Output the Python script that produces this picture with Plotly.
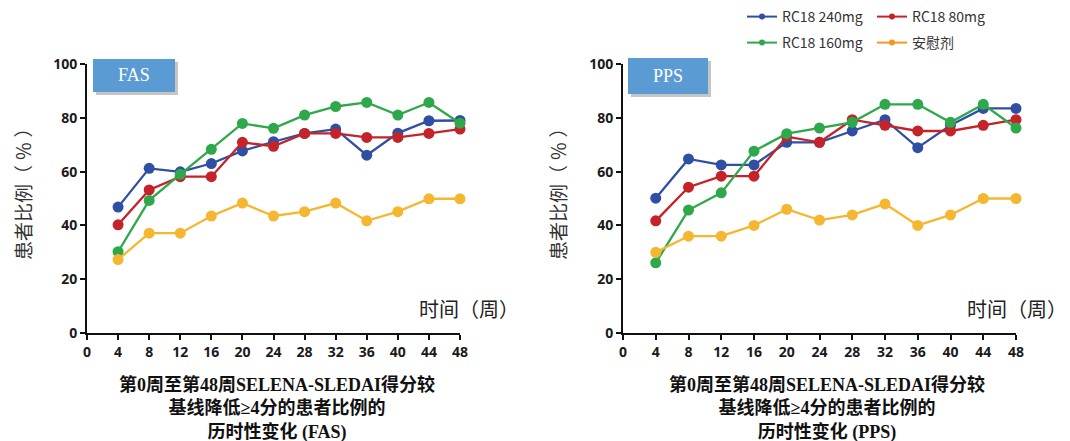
import plotly.graph_objects as go

W, H = 1070, 441

# ---- data -------------------------------------------------------------
weeks = [4, 8, 12, 16, 20, 24, 28, 32, 36, 40, 44, 48]
x_ticks = [0, 4, 8, 12, 16, 20, 24, 28, 32, 36, 40, 44, 48]
y_ticks = [0, 20, 40, 60, 80, 100]

series_names = ["RC18 240mg", "RC18 80mg", "RC18 160mg", "安慰剂"]

fas_240 = [46.8, 61.2, 59.9, 63.0, 67.7, 71.1, 74.2, 75.8, 66.1, 74.3, 78.9, 79.0]
fas_80 = [40.2, 53.2, 58.1, 58.1, 70.9, 69.4, 74.2, 74.2, 72.7, 72.7, 74.2, 75.8]
fas_160 = [30.2, 49.3, 59.0, 68.3, 77.9, 76.1, 81.0, 84.2, 85.7, 81.0, 85.7, 78.0]
fas_placebo = [27.3, 37.1, 37.1, 43.5, 48.3, 43.5, 45.1, 48.3, 41.7, 45.1, 49.9, 49.9]

pps_240 = [50.1, 64.7, 62.5, 62.5, 70.9, 70.9, 75.1, 79.3, 68.9, 77.2, 83.5, 83.5]
pps_80 = [41.7, 54.2, 58.3, 58.3, 73.0, 70.9, 79.3, 77.2, 75.1, 75.1, 77.2, 79.3]
pps_160 = [26.1, 45.7, 52.1, 67.6, 74.1, 76.2, 78.3, 85.0, 85.0, 78.3, 85.0, 76.2]
pps_placebo = [30.0, 36.0, 36.0, 40.0, 46.0, 42.0, 43.9, 48.0, 40.0, 43.9, 50.0, 50.0]

y_title = "患者比例（ ％ ）"
x_title = "时间（周）"
panel_tags = ["FAS", "PPS"]
captions = [
    "第0周至第48周SELENA-SLEDAI得分较<br>基线降低≥4分的患者比例的<br>历时性变化 (FAS)",
    "第0周至第48周SELENA-SLEDAI得分较<br>基线降低≥4分的患者比例的<br>历时性变化 (PPS)",
]

# ---- styling ----------------------------------------------------------
line_colors = ["#2F4FA2", "#C42329", "#2EA84B", "#F5B731"]
legend_colors = ["#2F4FA2", "#C42329", "#2EA84B", "#F7961F"]
TAG_FILL = "#5B9BD3"
TICK_FONT = dict(family="Open Sans, Liberation Sans, sans-serif", size=14,
                 color="#1a1a1a", weight="bold")
CJK_FONT = "Noto Sans CJK SC, Noto Sans, sans-serif"
CAPTION_FONT = "Liberation Serif, Noto Sans CJK SC, serif"


def px(x):
    return x / W


def py(y):
    return 1 - y / H


panels = [
    dict(xaxis="x", yaxis="y", xd=(87, 460), data=[fas_240, fas_80, fas_160, fas_placebo],
         ytitle_x=22, xtitle_r=521, tag_box=(93, 59, 175, 92), cap_x=277),
    dict(xaxis="x2", yaxis="y2", xd=(623, 1016), data=[pps_240, pps_80, pps_160, pps_placebo],
         ytitle_x=557, xtitle_r=1069, tag_box=(628, 58, 708, 94), cap_x=827),
]
y_dom = (py(333), py(64))

fig = go.Figure()

for p in panels:
    for name, vals, color in zip(series_names, p["data"], line_colors):
        fig.add_trace(go.Scatter(
            x=weeks, y=vals, name=name, mode="lines+markers",
            xaxis=p["xaxis"], yaxis=p["yaxis"],
            line=dict(color=color, width=2.3),
            marker=dict(color=color, size=11),
            showlegend=False, cliponaxis=False,
        ))

# legend entries (two rows of two)
for i, (name, color) in enumerate(zip(series_names, legend_colors)):
    fig.add_trace(go.Scatter(
        x=[None], y=[None], name=name, mode="lines+markers",
        line=dict(color=color, width=2), marker=dict(color=color, size=6),
        legend="legend" if i < 2 else "legend2", showlegend=True,
    ))

axis_common = dict(
    showgrid=False, zeroline=False, showline=True, linecolor="#111", linewidth=2,
    ticks="outside", ticklen=5, tickwidth=2, tickcolor="#111", tickfont=TICK_FONT,
)

legend_common = dict(
    orientation="h", xanchor="left", yanchor="top",
    entrywidth=85, entrywidthmode="pixels", itemwidth=30,
    font=dict(family=CJK_FONT, size=14, color="#333"),
    bgcolor="rgba(0,0,0,0)", tracegroupgap=0,
)

fig.update_layout(
    width=W, height=H,
    margin=dict(l=0, r=0, t=0, b=0, autoexpand=False),
    paper_bgcolor="white", plot_bgcolor="white",
    xaxis=dict(domain=[px(87), px(460)], range=[0, 48], tickvals=x_ticks,
               anchor="y", **axis_common),
    yaxis=dict(domain=list(y_dom), range=[0, 100], tickvals=y_ticks,
               anchor="x", **axis_common),
    xaxis2=dict(domain=[px(623), px(1016)], range=[0, 48], tickvals=x_ticks,
                anchor="y2", **axis_common),
    yaxis2=dict(domain=list(y_dom), range=[0, 100], tickvals=y_ticks,
                anchor="x2", **axis_common),
    legend=dict(x=px(742), y=py(1), **legend_common),
    legend2=dict(x=px(742), y=py(27), **legend_common),
)

shapes = []
annotations = []
for p, tag, cap in zip(panels, panel_tags, captions):
    x0, y0, x1, y1 = p["tag_box"]
    # soft drop shadow, then the tag box
    shapes.append(dict(type="rect", xref="paper", yref="paper",
                       x0=px(x0 + 3), x1=px(x1 + 3), y0=py(y1 + 3), y1=py(y0 + 3),
                       fillcolor="rgba(90,90,90,0.35)", line=dict(width=0), layer="above"))
    shapes.append(dict(type="rect", xref="paper", yref="paper",
                       x0=px(x0), x1=px(x1), y0=py(y1), y1=py(y0),
                       fillcolor=TAG_FILL, line=dict(width=0), layer="above"))
    annotations.append(dict(text=tag, xref="paper", yref="paper",
                            x=px((x0 + x1) / 2), y=py((y0 + y1) / 2),
                            showarrow=False, xanchor="center", yanchor="middle",
                            font=dict(family="Liberation Serif, serif", size=18, color="white")))
    # axis titles
    annotations.append(dict(text=y_title, xref="paper", yref="paper",
                            x=px(p["ytitle_x"]), y=py(189), textangle=-90,
                            showarrow=False, xanchor="center", yanchor="middle",
                            font=dict(family=CJK_FONT, size=19, color="#333")))
    annotations.append(dict(text=x_title, xref="paper", yref="paper",
                            x=px(p["xtitle_r"]), y=py(308),
                            showarrow=False, xanchor="right", yanchor="middle",
                            font=dict(family=CJK_FONT, size=20, color="#222")))
    # caption under each panel
    annotations.append(dict(text=cap, xref="paper", yref="paper",
                            x=px(p["cap_x"]), y=py(372), showarrow=False,
                            xanchor="center", yanchor="top", align="center",
                            font=dict(family=CAPTION_FONT, size=18, color="#111",
                                      weight="bold")))

fig.update_layout(shapes=shapes, annotations=annotations)

fig.write_html("out.html")
